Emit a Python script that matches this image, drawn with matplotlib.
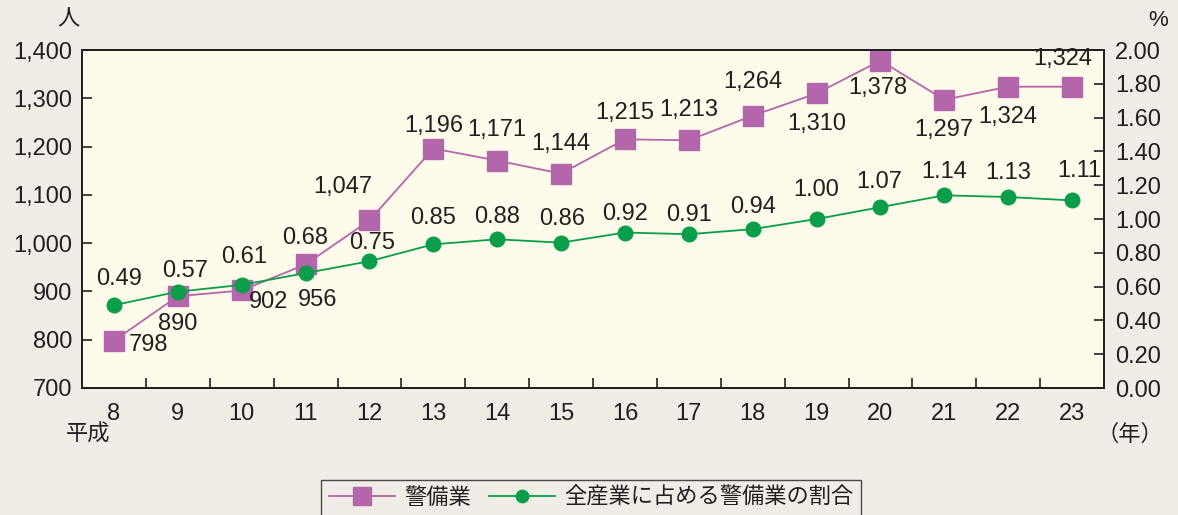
import matplotlib
matplotlib.use("Agg")
import matplotlib.pyplot as plt
from matplotlib.ticker import FuncFormatter, FixedLocator

plt.rcParams['font.family'] = ['Liberation Sans', 'Noto Sans CJK JP', 'DejaVu Sans']

years = ['8', '9', '10', '11', '12', '13', '14', '15', '16', '17', '18', '19', '20', '21', '22', '23']
guards = [798, 890, 902, 956, 1047, 1196, 1171, 1144, 1215, 1213, 1264, 1310, 1378, 1297, 1324, 1324]
ratio = [0.49, 0.57, 0.61, 0.68, 0.75, 0.85, 0.88, 0.86, 0.92, 0.91, 0.94, 1.00, 1.07, 1.14, 1.13, 1.11]

# label offsets (points)
g_off = [(25, -3), (0, -20), (19, -8), (9, -26), (-19, 24), (0, 16), (0, 22), (0, 21), (0, 19), (0, 22), (0, 24), (0, -22), (-2, -20), (0, -22), (0, -22), (-7, 20)]
r_off = [(4, 19), (5, 15), (2, 20), (0, 25), (2, 13), (0, 19), (0, 16), (1, 17), (0, 13), (0, 14), (0, 16), (0, 21), (-1, 18), (0, 17), (0, 17), (5, 21)]

purple = '#B366AA'
green = '#0A9E4A'
fig_bg = '#F0EDE7'
ax_bg = '#FEFBEA'
tc = '#231F20'
fs = 17

fig = plt.figure(figsize=(11.78, 5.15), dpi=100, facecolor=fig_bg)
ax = fig.add_axes([82/1178, 1-388/515, (1104-82)/1178, (388-50)/515])
ax.set_facecolor(ax_bg)
ax2 = ax.twinx()

x = list(range(len(years)))
l1, = ax.plot(x, guards, color=purple, lw=1.3, marker='s', markersize=14.5,
              markerfacecolor=purple, markeredgecolor=purple, zorder=3)
l2, = ax2.plot(x, ratio, color=green, lw=1.3, marker='o', markersize=10.5,
               markerfacecolor=green, markeredgecolor=green, zorder=3)

ax.set_xlim(-0.5, len(years) - 0.5)
ax.set_ylim(700, 1400)
ax2.set_ylim(0, 2.0)

ax.set_yticks(range(700, 1401, 100))
ax.yaxis.set_major_formatter(FuncFormatter(lambda v, p: f'{int(v):,}'))
ax2.set_yticks([i * 0.2 for i in range(11)])
ax2.yaxis.set_major_formatter(FuncFormatter(lambda v, p: f'{v:.2f}'))

ax.xaxis.set_major_locator(FixedLocator([i + 0.5 for i in range(len(years) - 1)]))
ax.xaxis.set_major_formatter(FuncFormatter(lambda v, p: ''))
ax.xaxis.set_minor_locator(FixedLocator(x))
ax.set_xticklabels(years, minor=True)
ax.tick_params(axis='x', which='major', direction='in', length=7, width=1.2, color=tc)
ax.tick_params(axis='x', which='minor', length=0, pad=11, labelsize=fs, labelcolor=tc)
ax.tick_params(axis='y', direction='in', length=7, width=1.2, color=tc, labelsize=fs, labelcolor=tc, pad=7)
ax2.tick_params(axis='y', direction='in', length=7, width=1.2, color=tc, labelsize=fs, labelcolor=tc, pad=8)

for a in (ax, ax2):
    for s in a.spines.values():
        s.set_color(tc)
        s.set_linewidth(1.3)

for i, (v, off) in enumerate(zip(guards, g_off)):
    ax.annotate(f'{v:,}', (i, v), xytext=off, textcoords='offset points',
                ha='center', va='center', fontsize=fs, color=tc, zorder=5)
for i, (v, off) in enumerate(zip(ratio, r_off)):
    ax2.annotate(f'{v:.2f}', (i, v), xytext=off, textcoords='offset points',
                 ha='center', va='center', fontsize=fs, color=tc, zorder=5)

fig.text(68/1178, 1-20/515, '人', ha='center', va='center', fontsize=16, color=tc)
fig.text(1158/1178, 1-20/515, '%', ha='center', va='center', fontsize=16, color=tc)
fig.text(88/1178, 1-435/515, '平成', ha='center', va='center', fontsize=16, color=tc)
fig.text(1130/1178, 1-435/515, '（年）', ha='center', va='center', fontsize=16, color=tc)

leg = fig.legend([l1, l2], ['警備業', '全産業に占める警備業の割合'], loc='lower center',
                 bbox_to_anchor=(591/1178, -0.025), ncol=2, fontsize=16, frameon=True,
                 fancybox=False, edgecolor=tc, facecolor=fig_bg, handlelength=3.0,
                 columnspacing=0.8, handletextpad=0.4, borderpad=0.35, markerscale=0.85)
leg.get_frame().set_linewidth(1.0)
for t in leg.get_texts():
    t.set_color(tc)

fig.savefig('out.png', dpi=100, facecolor=fig_bg)
